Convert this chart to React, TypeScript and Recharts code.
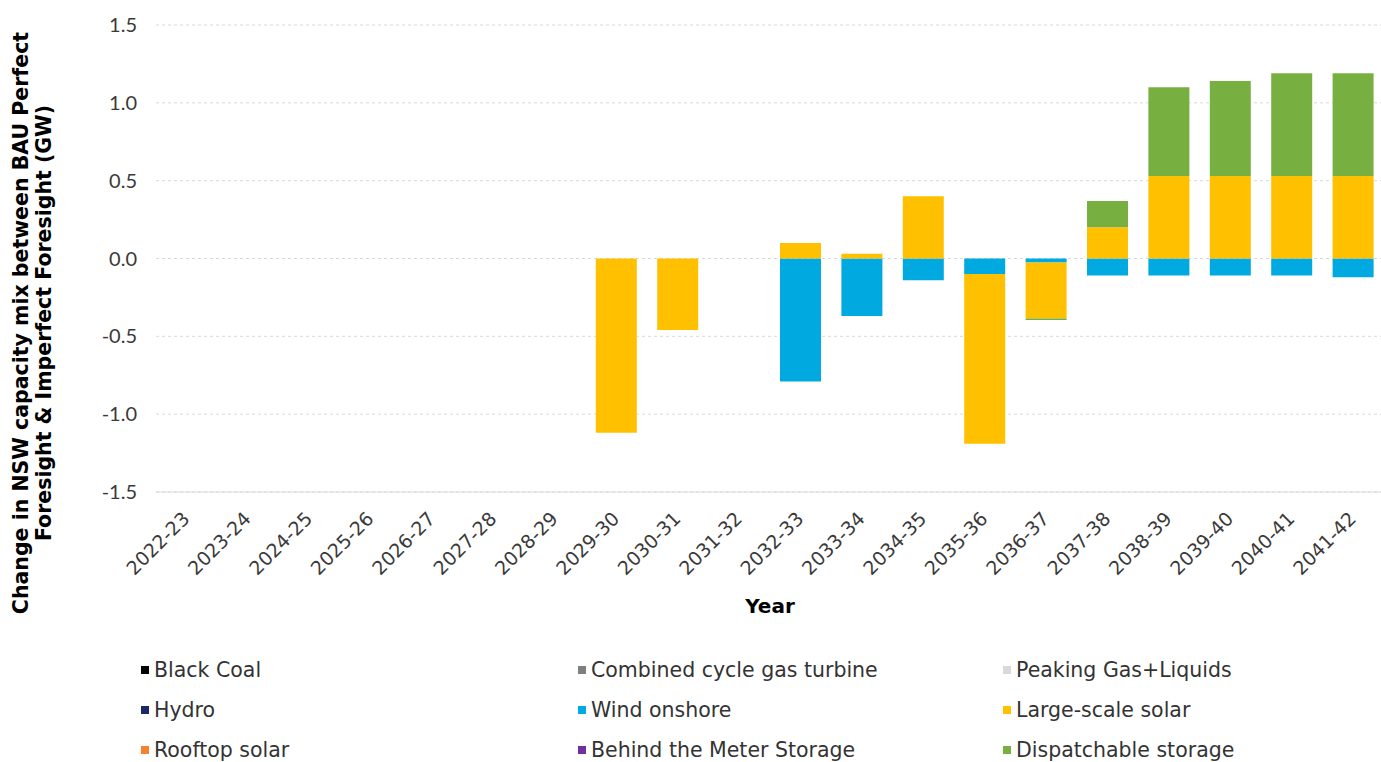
import React from "react";
import { Bar, BarChart, CartesianGrid, Label, XAxis, YAxis } from "recharts";

const years = [
  "2022-23", "2023-24", "2024-25", "2025-26", "2026-27", "2027-28", "2028-29",
  "2029-30", "2030-31", "2031-32", "2032-33", "2033-34", "2034-35", "2035-36",
  "2036-37", "2037-38", "2038-39", "2039-40", "2040-41", "2041-42",
];

const blackCoal = [0, 0, 0, 0, 0, 0, 0, 0, 0, 0, 0, 0, 0, 0, 0, 0, 0, 0, 0, 0];
const ccgt = [0, 0, 0, 0, 0, 0, 0, 0, 0, 0, 0, 0, 0, 0, 0, 0, 0, 0, 0, 0];
const peaking = [0, 0, 0, 0, 0, 0, 0, 0, 0, 0, 0, 0, 0, 0, 0, 0, 0, 0, 0, 0];
const hydro = [0, 0, 0, 0, 0, 0, 0, 0, 0, 0, 0, 0, 0, 0, 0, 0, 0, 0, 0, 0];
const windOnshore = [0, 0, 0, 0, 0, 0, 0, 0, 0, 0, -0.79, -0.37, -0.14, -0.1, -0.025, -0.11, -0.11, -0.11, -0.11, -0.12];
const largeSolar = [0, 0, 0, 0, 0, 0, 0, -1.12, -0.46, 0, 0.1, 0.03, 0.4, -1.09, -0.36, 0.2, 0.53, 0.53, 0.53, 0.53];
const rooftopSolar = [0, 0, 0, 0, 0, 0, 0, 0, 0, 0, 0, 0, 0, 0, 0, 0, 0, 0, 0, 0];
const btmStorage = [0, 0, 0, 0, 0, 0, 0, 0, 0, 0, 0, 0, 0, 0, 0, 0, 0, 0, 0, 0];
const dispatchable = [0, 0, 0, 0, 0, 0, 0, 0, 0, 0, 0, 0, 0, 0, -0.01, 0.17, 0.57, 0.61, 0.66, 0.66];

const yTicks = [-1.5, -1, -0.5, 0, 0.5, 1, 1.5];

const series = [
  { key: "blackCoal", name: "Black Coal", color: "#000000", values: blackCoal },
  { key: "ccgt", name: "Combined cycle gas turbine", color: "#7f7f7f", values: ccgt },
  { key: "peaking", name: "Peaking Gas+Liquids", color: "#d9d9d9", values: peaking },
  { key: "hydro", name: "Hydro", color: "#1b2a66", values: hydro },
  { key: "wind", name: "Wind onshore", color: "#00a9e0", values: windOnshore },
  { key: "solar", name: "Large-scale solar", color: "#ffc000", values: largeSolar },
  { key: "rooftop", name: "Rooftop solar", color: "#f5822e", values: rooftopSolar },
  { key: "btm", name: "Behind the Meter Storage", color: "#7030a0", values: btmStorage },
  { key: "dispatch", name: "Dispatchable storage", color: "#77b041", values: dispatchable },
];

const data = years.map((year, i) => {
  const row: Record<string, any> = { year };
  series.forEach((s) => (row[s.key] = s.values[i]));
  return row;
});

const FONT = "Lato, 'Open Sans', sans-serif";
const WIDE = "'DejaVu Sans', Verdana, sans-serif";

const YearTick = (props: any) => {
  const { x, y, payload } = props;
  const ax = x + 4;
  const ay = y + 20;
  return (
    <text
      x={ax}
      y={ay}
      textAnchor="end"
      transform={`rotate(-45 ${ax} ${ay})`}
      fontSize={19}
      fill="#3a3a3a"
      fontFamily={WIDE}
    >
      {payload.value}
    </text>
  );
};

export default function App() {
  return (
    <div
      style={{
        position: "absolute",
        left: 0,
        top: 0,
        width: 1381,
        height: 762,
        overflow: "hidden",
        background: "#fff",
        fontFamily: WIDE,
      }}
    >
      <BarChart
        width={1390}
        height={640}
        data={data}
        stackOffset="sign"
        barSize={41}
        margin={{ top: 25, right: 6, bottom: 38, left: 0 }}
      >
        <CartesianGrid vertical={false} strokeDasharray="3 3" stroke="#d9d9d9" />
        <XAxis
          dataKey="year"
          interval={0}
          height={110}
          tickLine={false}
          axisLine={{ stroke: "#d9d9d9" }}
          tick={<YearTick />}
        >
          <Label
            content={({ viewBox }: any) => (
              <text
                x={viewBox.x + viewBox.width / 2}
                y={viewBox.y + 121}
                textAnchor="middle"
                fontSize={20}
                fontWeight="bold"
                fill="#000"
                fontFamily={WIDE}
              >
                Year
              </text>
            )}
          />
        </XAxis>
        <YAxis
          width={156}
          domain={[-1.5, 1.5]}
          ticks={yTicks}
          tickFormatter={(v) => Number(v).toFixed(1)}
          axisLine={false}
          tickLine={false}
          tickSize={0}
          tickMargin={19}
          tick={{ fontSize: 20, fill: "#3a3a3a", fontFamily: FONT }}
        >
          <Label
            content={() => (
              <g fontFamily={WIDE} fontWeight="bold" fontSize={20.5} fill="#000">
                <text x={28} y={323} textAnchor="middle" transform="rotate(-90 28 323)">
                  Change in NSW capacity mix between BAU Perfect
                </text>
                <text x={51} y={323} textAnchor="middle" transform="rotate(-90 51 323)">
                  Foresight &amp; Imperfect Foresight (GW)
                </text>
              </g>
            )}
          />
        </YAxis>
        {series.map((s) => (
          <Bar
            key={s.key}
            dataKey={s.key}
            name={s.name}
            stackId="a"
            fill={s.color}
            isAnimationActive={false}
          />
        ))}
      </BarChart>
      <div
        style={{
          position: "absolute",
          left: 141,
          top: 658,
          width: 1240,
          display: "grid",
          gridTemplateColumns: "437px 425px 378px",
          rowGap: 16,
          fontSize: 20.5,
          color: "#333",
        }}
      >
        {series.map((s) => (
          <div key={s.key} style={{ display: "flex", alignItems: "center", height: 24 }}>
            <span
              style={{
                display: "inline-block",
                width: 8,
                height: 8,
                background: s.color,
                marginRight: 5,
              }}
            />
            <span>{s.name}</span>
          </div>
        ))}
      </div>
    </div>
  );
}
